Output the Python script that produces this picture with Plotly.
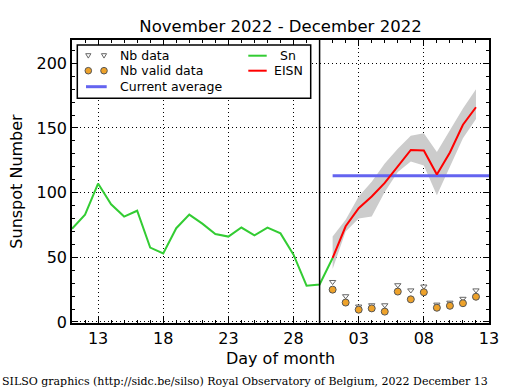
import plotly.graph_objects as go

# ---------------- data ----------------
sn_dates = ["2022-11-%02d" % d for d in range(11, 31)] + ["2022-12-01"]
sn_values = [72, 83, 107, 91, 81.5, 86, 57.5, 53, 72.5, 83, 76, 68, 66, 73, 67, 73,
             68.5, 52, 28, 29, 49.5]

est_dates = ["2022-12-%02d" % d for d in range(1, 13)]
eisn_values = [49.5, 74, 88, 97, 107.5, 120, 133, 132.5, 114, 131, 152.5, 166]
eisn_upper = [66, 79, 97, 108.5, 122.5, 134, 144, 146, 131.5, 148, 165, 180]
eisn_lower = [41, 70, 80, 81.5, 100.5, 116, 124, 121, 98, 120, 142, 157]
nb_data = [31, 20, 12, 13, 13, 28.5, 24.5, 27.5, 13.5, 15, 18, 24.5]
nb_valid = [25, 15, 9.5, 10.5, 8, 23.5, 17.5, 23, 11, 12.5, 14.5, 19.5]

avg_dates = ["2022-12-01", "2022-12-13"]
avg_value = 113
separator_date = "2022-11-30"

x_tickvals = ["2022-11-13", "2022-11-18", "2022-11-23", "2022-11-28",
              "2022-12-03", "2022-12-08", "2022-12-13"]
x_ticktext = ["13", "18", "23", "28", "03", "08", "13"]
y_tickvals = [0, 50, 100, 150, 200]

# ---------------- layout geometry ----------------
W, H = 515, 390
ML, MR, MT, MB = 72, 26, 40, 67
PW, PH = W - ML - MR, H - MT - MB

def px(xp):
    return (xp - ML) / PW

def py(yp):
    return (H - MB - yp) / PH

FONT = "DejaVu Sans"

fig = go.Figure()

# uncertainty band
fig.add_trace(go.Scatter(x=est_dates, y=eisn_upper, mode="lines",
                         line=dict(width=0, color="#cccccc"), showlegend=False,
                         hoverinfo="skip"))
fig.add_trace(go.Scatter(x=est_dates, y=eisn_lower, mode="lines", fill="tonexty",
                         fillcolor="#cccccc", line=dict(width=0, color="#cccccc"),
                         showlegend=False, hoverinfo="skip"))
# current average
fig.add_trace(go.Scatter(x=avg_dates, y=[avg_value] * len(avg_dates), mode="lines",
                         line=dict(color="#6464f0", width=3), name="Current average",
                         showlegend=False))
# Sn
fig.add_trace(go.Scatter(x=sn_dates, y=sn_values, mode="lines",
                         line=dict(color="#33cc33", width=2), name="Sn", showlegend=False))
# EISN
fig.add_trace(go.Scatter(x=est_dates, y=eisn_values, mode="lines",
                         line=dict(color="#ff0000", width=2), name="EISN", showlegend=False))
# Nb data
fig.add_trace(go.Scatter(x=est_dates, y=nb_data, mode="markers",
                         marker=dict(symbol="triangle-down", size=5.5, color="white",
                                     line=dict(color="#666666", width=1)),
                         name="Nb data", showlegend=False))
# Nb valid data
fig.add_trace(go.Scatter(x=est_dates, y=nb_valid, mode="markers",
                         marker=dict(symbol="circle", size=7, color="#eea22a",
                                     line=dict(color="#555555", width=1)),
                         name="Nb valid data", showlegend=False))

shapes = []
# separator line
shapes.append(dict(type="line", xref="x", yref="paper", x0=separator_date, x1=separator_date,
                   y0=0, y1=1, line=dict(color="black", width=1.5), layer="above"))

# legend box
lx0, lx1, ly0, ly1 = 77.3, 310.7, 45, 98.3
shapes.append(dict(type="rect", xref="paper", yref="paper", x0=px(lx0), x1=px(lx1),
                   y0=py(ly1), y1=py(ly0), line=dict(color="black", width=1.5),
                   fillcolor="white", layer="above"))

row1, row2, row3 = 55.7, 70.7, 86.7
for cx in (88.3, 104):
    # triangle-down key
    path = "M %f,%f L %f,%f L %f,%f Z" % (px(cx - 2.6), py(row1 - 2.0), px(cx + 2.6), py(row1 - 2.0),
                                          px(cx), py(row1 + 2.4))
    shapes.append(dict(type="path", xref="paper", yref="paper", path=path,
                       fillcolor="white", line=dict(color="#666666", width=1), layer="above"))
    # circle key
    shapes.append(dict(type="circle", xref="paper", yref="paper", x0=px(cx - 3.3), x1=px(cx + 3.3),
                       y0=py(row2 + 3.3), y1=py(row2 - 3.3), fillcolor="#eea22a",
                       line=dict(color="#555555", width=1), layer="above"))
shapes.append(dict(type="line", xref="paper", yref="paper", x0=px(86), x1=px(106.7),
                   y0=py(row3), y1=py(row3), line=dict(color="#6464f0", width=3), layer="above"))
shapes.append(dict(type="line", xref="paper", yref="paper", x0=px(248.3), x1=px(266.7),
                   y0=py(row1), y1=py(row1), line=dict(color="#33cc33", width=2), layer="above"))
shapes.append(dict(type="line", xref="paper", yref="paper", x0=px(248.3), x1=px(266.7),
                   y0=py(row2), y1=py(row2), line=dict(color="#ff0000", width=2), layer="above"))

annotations = []
for txt, yy in (("Nb data", row1), ("Nb valid data", row2), ("Current average", row3)):
    annotations.append(dict(xref="paper", yref="paper", x=px(118), y=py(yy), text=txt,
                            showarrow=False, xanchor="left", yanchor="middle",
                            font=dict(family=FONT, size=12.5, color="black")))
for txt, yy in (("Sn", row1), ("EISN", row2)):
    annotations.append(dict(xref="paper", yref="paper", x=px(288), y=py(yy), text=txt,
                            showarrow=False, xanchor="center", yanchor="middle",
                            font=dict(family=FONT, size=12.5, color="black")))
annotations.append(dict(xref="paper", yref="paper", x=px(0), y=py(381.5),
                        text="SILSO graphics (http://sidc.be/silso) Royal Observatory of Belgium, 2022 December 13",
                        showarrow=False, xanchor="left", yanchor="middle",
                        font=dict(family="DejaVu Serif", size=11, color="black")))

axis_common = dict(showline=True, linecolor="black", linewidth=1.5, mirror="allticks",
                   ticks="inside", ticklen=6, tickcolor="black", tickwidth=1,
                   showgrid=True, gridcolor="black", gridwidth=1, griddash="1px,3px",
                   zeroline=False, tickfont=dict(family=FONT, size=16, color="black"))

fig.update_layout(
    width=W, height=H,
    margin=dict(l=ML, r=MR, t=MT, b=MB, pad=0),
    paper_bgcolor="white", plot_bgcolor="white",
    showlegend=False,
    title=dict(text="November 2022 - December 2022", x=0.5, xref="paper", xanchor="center",
               y=1 - 26 / H, yref="container", yanchor="middle",
               font=dict(family=FONT, size=16.5, color="black")),
    xaxis=dict(type="date", range=["2022-11-11", "2022-12-13"],
               tickvals=x_tickvals, ticktext=x_ticktext,
               title=dict(text="Day of month", font=dict(family=FONT, size=16, color="black"),
                          standoff=6),
               minor=dict(dtick=86400000, ticks="inside", ticklen=3, tickcolor="black",
                          showgrid=False),
               **axis_common),
    yaxis=dict(range=[-0.8, 218], tickvals=y_tickvals,
               title=dict(text="Sunspot Number", font=dict(family=FONT, size=16, color="black"),
                          standoff=10),
               minor=dict(dtick=10, ticks="inside", ticklen=3, tickcolor="black",
                          showgrid=False),
               **axis_common),
    shapes=shapes,
    annotations=annotations,
)

fig.write_html("out.html", config={"displayModeBar": False},
               post_script="document.body.style.margin='0';document.body.style.padding='0';")
